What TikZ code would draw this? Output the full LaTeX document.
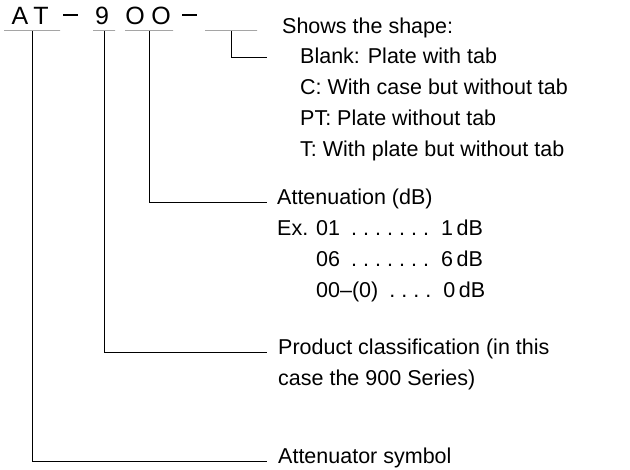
\documentclass[tikz,border=0pt]{standalone}
\usepackage{fontspec}
\setmainfont{Liberation Sans}
\usetikzlibrary{positioning}

% value line with spaced dots, right aligned
\newcommand{\spdot}{\hbox to 12pt{\hss.\hss}}
\newcommand{\dotrow}[3]{\hbox to 166pt{#1\hskip 8pt plus 1fill#2\hskip 9pt #3}}

\begin{document}
\begin{tikzpicture}[
    x=1pt, y=-1pt,
    code/.style={inner sep=0, anchor=base, font=\fontsize{25}{25}\selectfont},
    uline/.style={draw, inner sep=0, minimum height=0pt, line width=1pt},
    txt/.style={inner sep=0, anchor=base west, font=\fontsize{21.5}{21.5}\selectfont},
    conn/.style={line width=1pt}
]
\useasboundingbox (0,0) rectangle (630,470);

% type code
\node[code] (cA) at (20,25) {A};
\node[code] (cT) at (41,25) {T};
\node[code] (c9) at (102,25) {9};
\node[code] (cO1) at (135,25) {O};
\node[code] (cO2) at (161,25) {O};
\draw[line width=1.8pt] (63,15) -- (78,15);
\draw[line width=1.8pt] (182,15) -- (197,15);

\node[uline, minimum width=56pt] (uAT) at (32,31) {};
\node[uline, minimum width=22pt] (u9) at (104,31) {};
\node[uline, minimum width=48pt] (u00) at (149,31) {};
\node[uline, minimum width=52pt] (uX) at (231,31) {};

% explanations
\node[txt] (shape) at (282,34) {Shows the shape:};
\node[txt] (blank) at (300,64) {Blank: Plate with tab};
\node[txt] (case) at (300,95) {C: With case but without tab};
\node[txt] (plate) at (300,126) {PT: Plate without tab};
\node[txt] (tplate) at (300,157) {T: With plate but without tab};

\node[txt] (atten) at (277,205) {Attenuation (dB)};
\node[txt] (ex) at (277,236) {Ex.};
\node[txt] (ex1) at (316,236) {\dotrow{01}{\spdot\spdot\spdot\spdot\spdot\spdot\spdot}{1\,dB}};
\node[txt] (ex6) at (316,267) {\dotrow{06}{\spdot\spdot\spdot\spdot\spdot\spdot\spdot}{6\,dB}};
\node[txt] (ex0) at (316,298) {\dotrow{00--(0)}{\spdot\spdot\spdot\spdot}{0\,dB}};

\node[txt] (prod) at (278,355) {Product classification (in this};
\node[txt] (prodb) at (278,386) {case the 900 Series)};

\node[txt] (symb) at (278,464) {Attenuator symbol};

% leaders
\draw[conn] (uX.center) |- ([xshift=-33pt,yshift=4pt]blank.mid west);
\draw[conn] (u00.center) |- ([xshift=-10pt]atten.mid west);
\draw[conn] (u9.center) |- ([xshift=-11pt]prod.mid west);
\draw[conn] (uAT.center) |- ([xshift=-11pt]symb.mid west);
\end{tikzpicture}
\end{document}
